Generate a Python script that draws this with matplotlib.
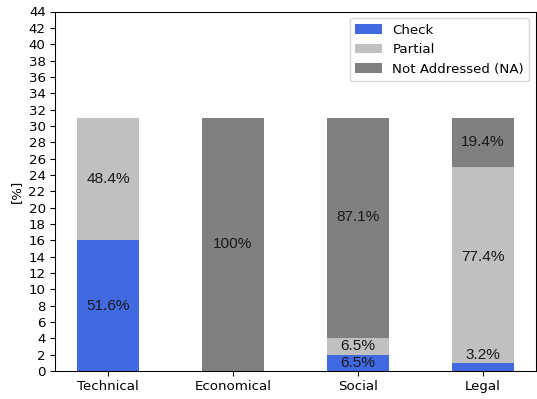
import matplotlib
matplotlib.use("Agg")
import matplotlib.pyplot as plt

categories = ["Technical", "Economical", "Social", "Legal"]
check = [16, 0, 2, 1]
partial = [15, 0, 2, 24]
not_addressed = [0, 31, 27, 6]

series = (
    ("Check", check, "royalblue"),
    ("Partial", partial, "silver"),
    ("Not Addressed (NA)", not_addressed, "gray"),
)

# hand nudges for a few labels (category, series index) -> shift in y units
nudge = {(2, 2): 1.3, (3, 1): 0.9, (3, 0): 1.45}

dpi = 96
fig = plt.figure(figsize=(537 / dpi, 399 / dpi), dpi=dpi)
ax = fig.add_axes([55 / 537, 1 - 371 / 399, 481 / 537, 359.5 / 399])

x = list(range(len(categories)))
bottom = [0] * len(categories)
totals = [c + p + n for c, p, n in zip(check, partial, not_addressed)]
for s, (name, vals, color) in enumerate(series):
    ax.bar(x, vals, width=0.5, bottom=bottom, color=color, label=name)
    for i, v in enumerate(vals):
        if v > 0:
            ylab = bottom[i] + v / 2 + nudge.get((i, s), 0)
            pct = v / totals[i] * 100
            txt = "100%" if v == totals[i] else "{:.1f}%".format(pct)
            ax.text(i, ylab, txt, ha="center", va="center", fontsize=11.5,
                    family="Liberation Sans", color="#1a1a1a")
    bottom = [b + v for b, v in zip(bottom, vals)]

ax.set_ylim(0, 44)
ax.set_yticks(range(0, 45, 2))
ax.set_xticks(x)
ax.set_xticklabels(categories)
ax.set_ylabel("[%]")
ax.legend(loc="upper right")

fig.savefig("out.png", dpi=dpi)
